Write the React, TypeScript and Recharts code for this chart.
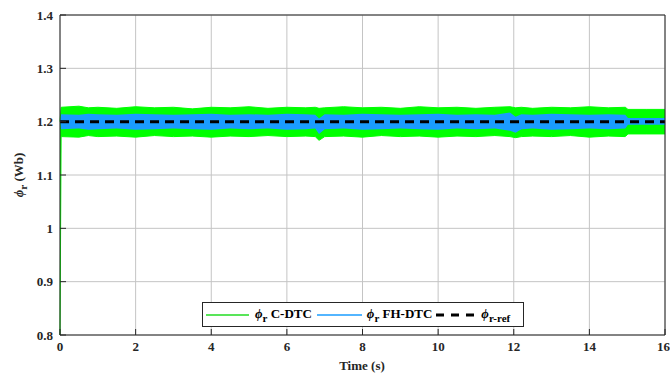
import React from "react";
import {
  ComposedChart,
  Area,
  Line,
  XAxis,
  YAxis,
  CartesianGrid,
  ReferenceLine,
} from "recharts";

// sample times (s)
const times = [0, 0.03, 0.5, 0.75, 1, 1.5, 2, 2.5, 3, 3.5, 4, 4.5, 5, 5.5, 6, 6.5, 6.75, 6.85, 7, 7.5, 8, 8.5, 9, 9.5, 10, 10.5, 11, 11.5, 11.9, 12.05, 12.2, 12.5, 13, 13.5, 14, 14.5, 14.95, 15.02, 15.5, 16];

// C-DTC flux envelope (Wb)
const cHigh = [1.2, 1.227, 1.229, 1.226, 1.227, 1.225, 1.228, 1.226, 1.227, 1.224, 1.227, 1.226, 1.228, 1.225, 1.227, 1.226, 1.227, 1.225, 1.226, 1.228, 1.226, 1.227, 1.225, 1.228, 1.226, 1.227, 1.225, 1.227, 1.228, 1.226, 1.227, 1.225, 1.227, 1.226, 1.228, 1.226, 1.227, 1.223, 1.223, 1.223];
const cLow = [0.8, 1.172, 1.171, 1.174, 1.172, 1.173, 1.171, 1.174, 1.172, 1.173, 1.171, 1.173, 1.172, 1.174, 1.172, 1.173, 1.172, 1.165, 1.172, 1.173, 1.171, 1.174, 1.172, 1.173, 1.171, 1.173, 1.172, 1.174, 1.172, 1.17, 1.172, 1.173, 1.172, 1.174, 1.171, 1.173, 1.172, 1.177, 1.177, 1.177];

// FH-DTC flux envelope (Wb)
const fhHigh = [1.2, 1.214, 1.213, 1.215, 1.214, 1.213, 1.215, 1.214, 1.213, 1.214, 1.215, 1.213, 1.214, 1.213, 1.215, 1.214, 1.213, 1.206, 1.214, 1.213, 1.215, 1.214, 1.213, 1.214, 1.215, 1.213, 1.214, 1.213, 1.217, 1.209, 1.214, 1.213, 1.215, 1.214, 1.213, 1.214, 1.213, 1.207, 1.207, 1.207];
const fhLow = [1.2, 1.186, 1.187, 1.185, 1.186, 1.187, 1.185, 1.186, 1.187, 1.186, 1.185, 1.187, 1.186, 1.187, 1.185, 1.186, 1.187, 1.177, 1.186, 1.187, 1.185, 1.186, 1.187, 1.186, 1.185, 1.187, 1.186, 1.187, 1.183, 1.179, 1.186, 1.187, 1.185, 1.186, 1.187, 1.186, 1.187, 1.194, 1.194, 1.194];

const refFlux = 1.2;

const xTicks = [0, 2, 4, 6, 8, 10, 12, 14, 16];
const yTicks = [0.8, 0.9, 1, 1.1, 1.2, 1.3, 1.4];

const data = times.map((t, i) => ({
  t,
  c: [cLow[i], cHigh[i]],
  fh: [fhLow[i], fhHigh[i]],
  ref: refFlux,
}));

const GREEN = "#00ff00";
const BLUE = "#1a9cff";
const FONT = "'Liberation Serif', 'Times New Roman', serif";
const tickStyle = { fontFamily: FONT, fontWeight: "bold", fontSize: 13, fill: "#262626" };

function Phi({ sub }: { sub: string }) {
  return (
    <span>
      <span style={{ fontStyle: "italic" }}>ϕ</span>
      <sub style={{ fontSize: 11, verticalAlign: "-4px" }}>{sub}</sub>
    </span>
  );
}

export default function App() {
  return (
    <div style={{ position: "absolute", left: 0, top: 0, width: 670, height: 376, background: "#fff", fontFamily: FONT }}>
      <ComposedChart width={670} height={376} data={data} margin={{ top: 15, right: 5, bottom: 0, left: 0 }}>
        <CartesianGrid stroke="#c4c4c4" strokeWidth={1} />
        <XAxis
          type="number"
          dataKey="t"
          domain={[0, 16]}
          ticks={xTicks}
          height={41}
          tick={tickStyle}
          tickSize={-6}
          tickMargin={13}
          tickLine={{ stroke: "#262626" }}
          axisLine={{ stroke: "#262626" }}
        />
        <YAxis
          type="number"
          domain={[0.8, 1.4]}
          ticks={yTicks}
          width={60}
          tick={tickStyle}
          tickSize={-6}
          tickMargin={13}
          tickLine={{ stroke: "#262626" }}
          axisLine={{ stroke: "#262626" }}
          tickFormatter={(v) => String(Number(Number(v).toFixed(1)))}
          allowDataOverflow
        />
        <Area type="linear" dataKey="c" stroke={GREEN} strokeWidth={1} fill={GREEN} fillOpacity={1} isAnimationActive={false} />
        <Area type="linear" dataKey="fh" stroke="none" fill={BLUE} fillOpacity={1} isAnimationActive={false} />
        <Line type="linear" dataKey="ref" stroke="#000" strokeWidth={3} strokeDasharray="9 6" dot={false} isAnimationActive={false} />
        <ReferenceLine y={1.4} stroke="#262626" />
        <ReferenceLine x={16} stroke="#262626" />
      </ComposedChart>

      {/* legend box */}
      <div
        style={{
          position: "absolute", left: 202, top: 302, width: 322, height: 25,
          border: "1px solid #262626", background: "#fff", boxSizing: "border-box",
          display: "flex", alignItems: "center", fontWeight: "bold", fontSize: 13, color: "#000",
          whiteSpace: "nowrap",
        }}
      >
        <svg width={46} height={10} style={{ marginLeft: 3 }}><line x1={0} y1={5} x2={43} y2={5} stroke="#22dd22" strokeWidth={1.5} /></svg>
        <span style={{ marginLeft: 3 }}><Phi sub="r" /> C-DTC</span>
        <svg width={48} height={10} style={{ marginLeft: 5 }}><line x1={0} y1={5} x2={45} y2={5} stroke={BLUE} strokeWidth={1.5} /></svg>
        <span style={{ marginLeft: 2 }}><Phi sub="r" /> FH-DTC</span>
        <svg width={45} height={10} style={{ marginLeft: 4 }}><line x1={0} y1={5} x2={44} y2={5} stroke="#000" strokeWidth={3} strokeDasharray="8 7" /></svg>
        <span><Phi sub="r-ref" /></span>
      </div>

      {/* y label */}
      <div
        style={{
          position: "absolute", left: 20, top: 175, transform: "translate(-50%, -50%) rotate(-90deg)",
          fontWeight: "bold", fontSize: 13, whiteSpace: "nowrap", color: "#262626",
        }}
      >
        <Phi sub="r" /> (Wb)
      </div>

      {/* x label */}
      <div
        style={{
          position: "absolute", left: 362, top: 366, transform: "translate(-50%, -50%)",
          fontWeight: "bold", fontSize: 13, whiteSpace: "nowrap", color: "#262626",
        }}
      >
        Time (s)
      </div>
    </div>
  );
}
